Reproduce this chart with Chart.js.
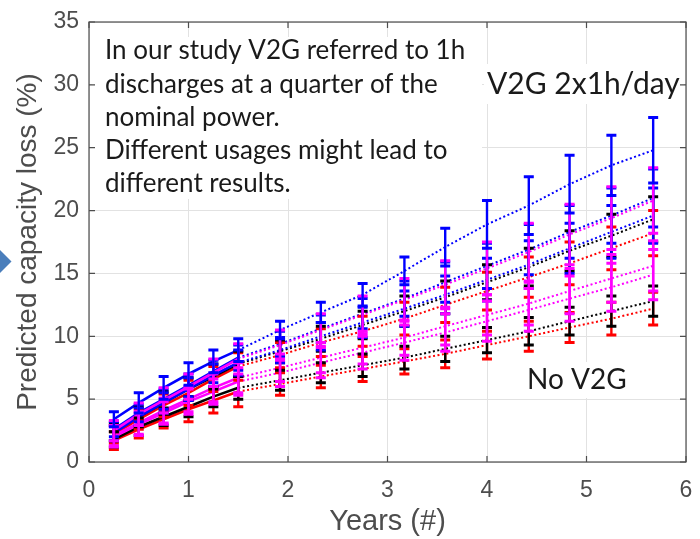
<!DOCTYPE html>
<html>
<head>
<meta charset="utf-8">
<title>Predicted capacity loss</title>
<script src="https://cdn.jsdelivr.net/npm/chart.js@4.4.1/dist/chart.umd.min.js"></script>
<style>
  html, body { margin: 0; padding: 0; background: #fff; }
  #wrap { position: relative; width: 700px; height: 539px; overflow: hidden; }
  #arrow { position: absolute; left: -9px; top: 253px; width: 17px; height: 17px;
           background: #4a7ebb; transform: rotate(45deg); }
</style>
</head>
<body>
<div id="wrap">
  <canvas id="lossChart" width="700" height="539"></canvas>
  <div id="arrow"></div>
</div>
<script>
// Years: measured part (0.25 - 1.5) then extrapolation (1.5 - 5.67)
const years = [0.25, 0.5, 0.75, 1, 1.25, 1.5, 1.92, 2.33, 2.75, 3.17, 3.58, 4, 4.42, 4.83, 5.25, 5.67];
const lastMeasured = 5; // index of 1.5 years

const xTicks = [0, 1, 2, 3, 4, 5, 6];
const yTicks = [0, 5, 10, 15, 20, 25, 30, 35];

// Predicted capacity loss (%) per series
const blueA  = [3.4, 4.7, 5.9, 7.0, 8.0, 8.9, 10.5, 11.9, 13.3, 15.2, 17.1, 18.9, 20.4, 22.1, 23.6, 24.8];
const magA   = [2.5, 3.8, 4.9, 6.0, 7.1, 8.2, 9.3, 10.5, 11.7, 12.9, 14.1, 15.4, 16.7, 18.1, 19.4, 20.8];
const blueB  = [2.6, 3.9, 5.0, 6.1, 7.2, 8.3, 9.4, 10.6, 11.8, 13.0, 14.3, 15.6, 16.9, 18.3, 19.6, 21.0];
const blueC  = [2.3, 3.6, 4.7, 5.8, 6.9, 7.9, 8.9, 10.0, 11.1, 12.2, 13.3, 14.5, 15.7, 17.0, 18.3, 19.6];
const blackA = [2.4, 3.6, 4.7, 5.8, 6.8, 7.8, 8.8, 9.8, 10.9, 12.0, 13.1, 14.3, 15.5, 16.8, 18.0, 19.3];
const redA   = [2.2, 3.4, 4.5, 5.5, 6.6, 7.6, 8.5, 9.5, 10.4, 11.4, 12.5, 13.6, 14.7, 15.8, 17.0, 18.2];
const magB   = [2.1, 3.1, 4.1, 5.0, 5.9, 6.7, 7.5, 8.3, 9.1, 9.9, 10.8, 11.7, 12.6, 13.6, 14.6, 15.6];
const magC   = [2.0, 3.0, 3.9, 4.8, 5.6, 6.4, 7.1, 7.9, 8.7, 9.5, 10.3, 11.2, 12.1, 13.0, 13.9, 14.9];
const blackB = [1.8, 2.8, 3.6, 4.4, 5.2, 5.9, 6.5, 7.1, 7.7, 8.3, 9.0, 9.7, 10.4, 11.2, 12.0, 12.8];
const redB   = [1.7, 2.6, 3.4, 4.2, 4.9, 5.6, 6.2, 6.8, 7.4, 8.0, 8.6, 9.3, 10.0, 10.7, 11.4, 12.2];

// Half length of the error bars (%)
const blueAErr  = [0.6, 0.8, 0.9, 0.9, 0.9, 0.9, 0.7, 0.8, 0.9, 1.1, 1.5, 1.9, 2.3, 2.3, 2.4, 2.6];
const magAErr   = [0.8, 0.9, 1.0, 1.0, 1.1, 1.2, 1.2, 1.3, 1.5, 1.7, 1.9, 2.1, 2.3, 2.4, 2.5, 2.6];
const blueBErr  = [0.6, 0.7, 0.8, 0.9, 0.9, 1.0, 1.0, 1.1, 1.2, 1.4, 1.6, 1.8, 2.0, 2.1, 2.2, 2.3];
const blueCErr  = [0.6, 0.7, 0.8, 0.9, 0.9, 1.0, 1.0, 1.1, 1.2, 1.4, 1.5, 1.7, 1.9, 2.0, 2.1, 2.2];
const blackAErr = [0.7, 0.8, 0.9, 0.9, 1.0, 1.0, 0.9, 1.0, 1.1, 1.2, 1.3, 1.4, 1.5, 1.6, 1.7, 1.8];
const redAErr   = [0.7, 0.8, 0.9, 1.0, 1.0, 1.1, 1.0, 1.1, 1.2, 1.3, 1.4, 1.5, 1.6, 1.7, 1.7, 1.8];
const magBErr   = [0.8, 0.9, 1.0, 1.0, 1.1, 1.2, 1.1, 1.2, 1.3, 1.4, 1.5, 1.6, 1.7, 1.8, 1.9, 2.0];
const magCErr   = [0.8, 0.9, 0.9, 1.0, 1.0, 1.1, 1.1, 1.2, 1.3, 1.4, 1.5, 1.6, 1.7, 1.8, 1.9, 2.0];
const blackBErr = [0.6, 0.7, 0.7, 0.8, 0.8, 0.9, 0.8, 0.8, 0.9, 0.9, 1.0, 1.0, 1.1, 1.1, 1.2, 1.2];
const redBErr   = [0.7, 0.7, 0.7, 1.0, 1.0, 1.2, 0.9, 0.9, 1.0, 1.0, 1.1, 1.1, 1.2, 1.2, 1.3, 1.3];

const noteLines = [
    'In our study V2G referred to 1h',
    'discharges at a quarter of the',
    'nominal power.',
    'Different usages might lead to',
    'different results.'
];

const BLUE = '#0000ff', MAGENTA = '#ff00ff', BLACK = '#000000', RED = '#ff0000';

// First series is drawn on top
const series = [
    { name: 'blueA', values: blueA, err: blueAErr, color: BLUE },
    { name: 'magA', values: magA, err: magAErr, color: MAGENTA },
    { name: 'magB', values: magB, err: magBErr, color: MAGENTA },
    { name: 'magC', values: magC, err: magCErr, color: MAGENTA },
    { name: 'blueB', values: blueB, err: blueBErr, color: BLUE },
    { name: 'blueC', values: blueC, err: blueCErr, color: BLUE },
    { name: 'blackA', values: blackA, err: blackAErr, color: BLACK },
    { name: 'blackB', values: blackB, err: blackBErr, color: BLACK },
    { name: 'redA', values: redA, err: redAErr, color: RED },
    { name: 'redB', values: redB, err: redBErr, color: RED }
];

const datasets = series.map(s => ({
    label: s.name,
    data: years.map((x, i) => ({ x: x, y: s.values[i] })),
    err: s.err,
    borderColor: s.color,
    backgroundColor: s.color,
    pointRadius: 0,
    borderWidth: 2.4,
    tension: 0,
    segment: {
        borderDash: ctx => ctx.p0DataIndex >= lastMeasured ? [2, 2.5] : undefined,
        borderWidth: ctx => ctx.p0DataIndex >= lastMeasured ? 2 : 2.6
    }
}));

// Error bars with caps, drawn from the bottom series up
const errorBars = {
    id: 'errorBars',
    afterDatasetsDraw(chart) {
        const { ctx } = chart;
        const xs = chart.scales.x, ys = chart.scales.y;
        ctx.save();
        for (let d = chart.data.datasets.length - 1; d >= 0; d--) {
            const ds = chart.data.datasets[d];
            ctx.strokeStyle = ds.borderColor;
            ds.data.forEach((p, i) => {
                const x = xs.getPixelForValue(p.x);
                const top = ys.getPixelForValue(p.y + ds.err[i]);
                const bot = ys.getPixelForValue(p.y - ds.err[i]);
                ctx.lineWidth = 2.4;
                ctx.beginPath();
                ctx.moveTo(x, top);
                ctx.lineTo(x, bot);
                ctx.stroke();
                ctx.lineWidth = 3;
                ctx.beginPath();
                ctx.moveTo(x - 5, top); ctx.lineTo(x + 5, top);
                ctx.moveTo(x - 5, bot); ctx.lineTo(x + 5, bot);
                ctx.stroke();
            });
        }
        ctx.restore();
    }
};

// White text boxes on top of the grid
const notes = {
    id: 'notes',
    beforeDatasetsDraw(chart) {
        const { ctx } = chart;
        ctx.save();
        ctx.fillStyle = '#ffffff';
        ctx.fillRect(92, 37, 390, 162);
        ctx.fillRect(484, 64, 200, 40);
        ctx.fillRect(524, 362, 106, 36);
        ctx.fillStyle = '#1a1a1a';
        ctx.textBaseline = 'middle';
        ctx.font = '26px Lato';
        noteLines.forEach((line, i) => ctx.fillText(line, 105, 51 + i * 33.2));
        ctx.font = '30px Lato';
        ctx.fillText('V2G 2x1h/day', 487, 84);
        ctx.font = '28px Lato';
        ctx.fillText('No V2G', 527, 380);
        ctx.restore();
    },
    afterDraw(chart) {
        // box around the axes with inward ticks
        const { ctx, chartArea: a } = chart;
        const xs = chart.scales.x, ys = chart.scales.y;
        ctx.save();
        ctx.strokeStyle = '#4d4d4d';
        ctx.lineWidth = 1.2;
        ctx.strokeRect(a.left, a.top, a.right - a.left, a.bottom - a.top);
        ctx.beginPath();
        xTicks.forEach(v => {
            const x = xs.getPixelForValue(v);
            ctx.moveTo(x, a.bottom); ctx.lineTo(x, a.bottom - 6);
            ctx.moveTo(x, a.top); ctx.lineTo(x, a.top + 6);
        });
        yTicks.forEach(v => {
            const y = ys.getPixelForValue(v);
            ctx.moveTo(a.left, y); ctx.lineTo(a.left + 6, y);
            ctx.moveTo(a.right, y); ctx.lineTo(a.right - 6, y);
        });
        ctx.stroke();
        ctx.restore();
    }
};

const tickFont = { family: 'Liberation Sans', size: 23 };

const ctx = document.getElementById('lossChart').getContext('2d');
new Chart(ctx, {
    type: 'line',
    data: { datasets: datasets },
    options: {
        responsive: false,
        animation: false,
        layout: { padding: { top: 22, right: 14, left: 0, bottom: 0 } },
        plugins: {
            legend: { display: false },
            tooltip: { enabled: false }
        },
        scales: {
            x: {
                type: 'linear',
                min: 0,
                max: 6,
                afterBuildTicks: s => { s.ticks = xTicks.map(v => ({ value: v })); },
                afterFit: s => { s.height = 77; s.paddingLeft = 0; s.paddingRight = 0; },
                grid: { color: '#e2e2e2', lineWidth: 1, drawTicks: false },
                border: { display: false },
                ticks: { font: tickFont, color: '#4d4d4d', padding: 15, maxRotation: 0 },
                title: { display: true, text: 'Years (#)', font: { family: 'Liberation Sans', size: 29 },
                         color: '#4d4d4d', padding: { top: 0, bottom: 0 } }
            },
            y: {
                type: 'linear',
                min: 0,
                max: 35,
                afterBuildTicks: s => { s.ticks = yTicks.map(v => ({ value: v })); },
                afterFit: s => { s.width = 89; s.paddingTop = 0; s.paddingBottom = 0; },
                grid: { color: '#e2e2e2', lineWidth: 1, drawTicks: false },
                border: { display: false },
                ticks: { font: tickFont, color: '#4d4d4d', padding: 10 },
                title: { display: true, text: 'Predicted capacity loss (%)',
                         font: { family: 'Liberation Sans', size: 28 },
                         color: '#4d4d4d', padding: { top: 11, bottom: 0 } }
            }
        }
    },
    plugins: [errorBars, notes]
});
</script>
</body>
</html>
